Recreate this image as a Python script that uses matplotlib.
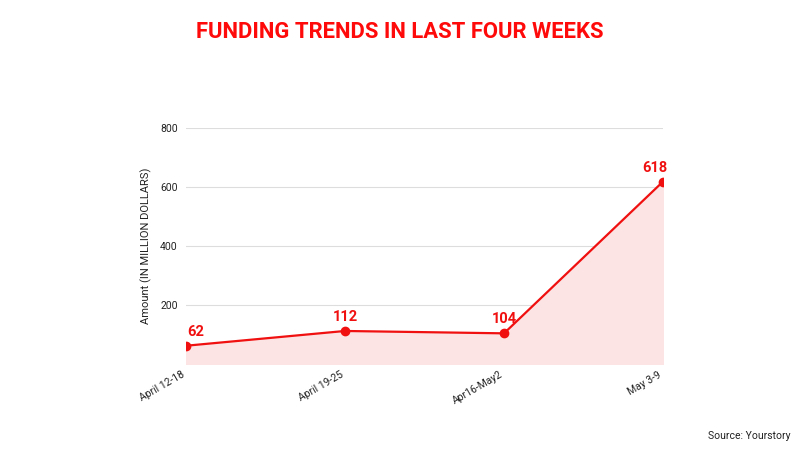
import matplotlib.pyplot as plt

weeks = ['April 12-18', 'April 19-25', 'Apr16-May2', 'May 3-9']
amounts = [62, 112, 104, 618]
yticks = [200, 400, 600, 800]

plt.rcParams['font.family'] = ['Roboto', 'DejaVu Sans']

red = '#f01010'

fig = plt.figure(figsize=(8, 4.5), dpi=100)
ax = fig.add_axes([0.2325, 0.191, 0.5963, 0.525])

x = list(range(len(weeks)))
ax.fill_between(x, amounts, 0, color='#fde4e4', zorder=1)
ax.plot(x, amounts, color=red, lw=1.6, marker='o', ms=6, zorder=3)
for xi, v in zip(x, amounts):
    dx = 0.06 if xi == 0 else (-0.05 if xi == len(x) - 1 else 0)
    ax.annotate(str(v), (xi + dx, v), xytext=(0, 5), textcoords='offset points',
                ha='center', va='bottom', color=red, fontsize=10.5, fontweight='bold')

ax.set_xlim(0, 3)
ax.set_ylim(0, 800)
ax.set_yticks(yticks)
ax.set_xticks(x)
ax.set_xticklabels(weeks, rotation=30, ha='right', fontsize=7.5, color='#222222')
ax.tick_params(axis='y', labelsize=7.5, colors='#222222', length=0, pad=6)
ax.tick_params(axis='x', length=0, pad=4)
ax.grid(axis='y', color='#dddddd', lw=0.8)
ax.set_axisbelow(True)
for s in ax.spines.values():
    s.set_visible(False)
ax.set_ylabel('Amount (IN MILLION DOLLARS)', fontsize=8, color='#222222', labelpad=6)

fig.text(0.5, 0.928, 'FUNDING TRENDS IN LAST FOUR WEEKS', ha='center', va='center',
         fontsize=15.8, fontweight='bold', color='#ff0a0a')
fig.text(0.988, 0.032, 'Source: Yourstory', ha='right', va='center', fontsize=7.5, color='#222222')

fig.savefig('out.png', dpi=100)
